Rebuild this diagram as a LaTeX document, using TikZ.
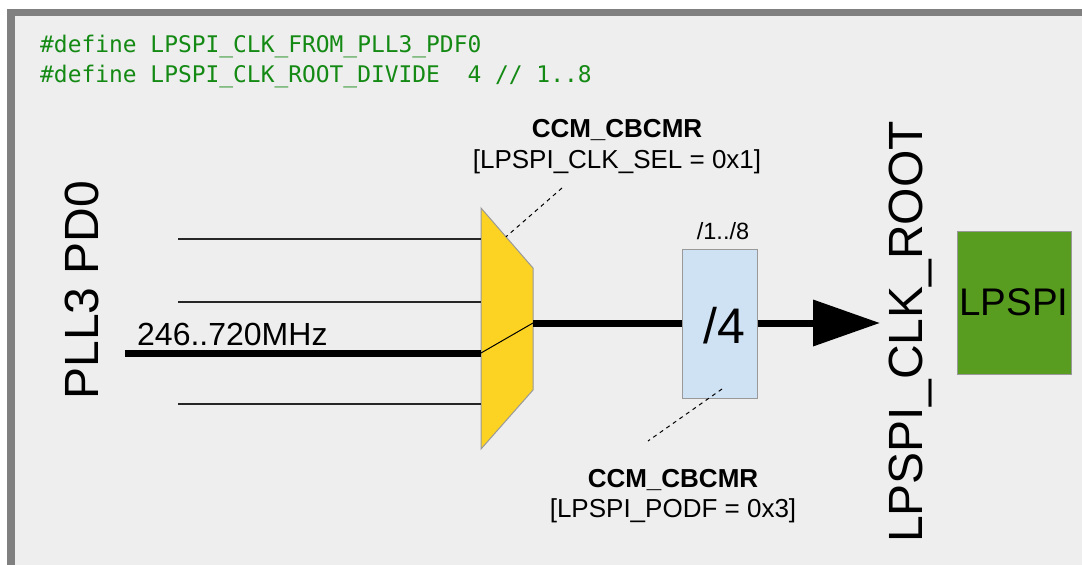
\documentclass[tikz,border=0pt]{standalone}
\usepackage{fontspec}
\setmainfont{Liberation Sans}
\newfontfamily\codefont{DejaVu Sans Mono}
\usetikzlibrary{arrows.meta}

\definecolor{panelbg}{HTML}{EEEEEE}
\definecolor{framegray}{HTML}{808080}
\definecolor{edgegray}{HTML}{999999}
\definecolor{muxyellow}{HTML}{FDD323}
\definecolor{divblue}{HTML}{CFE2F3}
\definecolor{periphgreen}{HTML}{589D1F}
\definecolor{codegreen}{RGB}{20,138,20}

\tikzset{
  codeline/.style={anchor=base west, inner sep=0pt, text=codegreen,
    font=\codefont\fontsize{22.9}{30}\selectfont},
  biglabel/.style={anchor=base, inner sep=0pt, rotate=90,
    font=\fontsize{48}{58}\selectfont},
  notebold/.style={anchor=base, inner sep=0pt, font=\bfseries\fontsize{26}{31}\selectfont},
  notetext/.style={anchor=base, inner sep=0pt, font=\fontsize{26}{31}\selectfont},
  muxshape/.style={fill=muxyellow, draw=edgegray, line width=1pt},
  divbox/.style={rectangle, fill=divblue, draw=edgegray, line width=1pt,
    minimum width=75pt, minimum height=149pt, inner sep=0pt},
  periphbox/.style={rectangle, fill=periphgreen, draw=edgegray, line width=1pt,
    minimum width=114pt, minimum height=143pt, inner sep=0pt,
    font=\fontsize{38.5}{44}\selectfont},
  thinwire/.style={draw=black!85, line width=1.2pt},
  buswire/.style={draw=black, line width=7pt},
  pointer/.style={draw=black, line width=1pt, dash pattern=on 4pt off 4pt},
}

\begin{document}
\begin{tikzpicture}[x=1pt, y=-1pt]
  \useasboundingbox (0,0) rectangle (1082,565);

  % panel with its frame on the top and left sides
  \fill[white] (0,0) rectangle (1082,565);
  \fill[framegray] (7,9) rectangle (1082,565);
  \fill[panelbg] (15,16) rectangle (1082,565);

  % configuration macros
  \node[codeline] (def1) at (40,52) {\#define LPSPI\_CLK\_FROM\_PLL3\_PDF0};
  \node[codeline] (def2) at (40,82) {\#define LPSPI\_CLK\_ROOT\_DIVIDE~~4 // 1..8};

  % clock source
  \node[biglabel] (src) at (98,290) {PLL3 PD0};

  % multiplexer
  \coordinate (m1) at (481,208);
  \coordinate (m2) at (533,268);
  \coordinate (m3) at (533,390);
  \coordinate (m4) at (481,449);
  \draw[muxshape] (m1) -- (m2) -- (m3) -- (m4) -- cycle;

  % multiplexer inputs
  \coordinate (ina) at (178,239);   \coordinate (mina) at (481,239);
  \coordinate (inb) at (178,302);   \coordinate (minb) at (481,302);
  \coordinate (inc) at (125,353);   \coordinate (minc) at (481,353);
  \coordinate (ind) at (178,404);   \coordinate (mind) at (481,404);
  \draw[thinwire] (ina) -- (mina);
  \draw[thinwire] (inb) -- (minb);
  \draw[buswire]  (inc) -- (minc);
  \draw[thinwire] (ind) -- (mind);
  \node[anchor=base west, inner sep=0pt, font=\fontsize{32}{36}\selectfont]
    (freq) at (137,345) {246..720MHz};

  % selected path through the multiplexer
  \coordinate (mout) at (533,323);
  \draw[black, line width=1pt] (minc) -- (mout);

  % divider
  \node[divbox] (div) at (719.5,323.5) {};
  \node[anchor=base, inner sep=0pt, font=\fontsize{50}{60}\selectfont]
    (ratio) at (724,343) {/4};
  \node[anchor=base, inner sep=0pt, font=\fontsize{23.5}{26}\selectfont]
    (range) at (723,239) {/1../8};
  \draw[buswire] (mout) -- (div.west |- mout);

  % root clock output
  \coordinate (tip) at (880,323);
  \draw[buswire, -{Triangle[length=67pt, width=45pt]}] (div.east |- tip) -- (tip);
  \node[biglabel] (root) at (922,332) {LPSPI\_CLK\_ROOT};

  % peripheral
  \node[periphbox] (lpspi) at (1014,302.5) {LPSPI};

  % register annotations
  \node[notebold] (selreg) at (617,137) {CCM\_CBCMR};
  \node[notetext] (selfld) at (617,168) {[LPSPI\_CLK\_SEL = 0x1]};
  \coordinate (selfrom) at (562,188);
  \coordinate (selto) at (506,236.8);
  \draw[pointer] (selfrom) -- (selto);

  \node[notebold] (divreg) at (673,487) {CCM\_CBCMR};
  \node[notetext] (divfld) at (673,517) {[LPSPI\_PODF = 0x3]};
  \coordinate (divfrom) at (722,389);
  \coordinate (divto) at (648,441);
  \draw[pointer] (divfrom) -- (divto);
\end{tikzpicture}
\end{document}
